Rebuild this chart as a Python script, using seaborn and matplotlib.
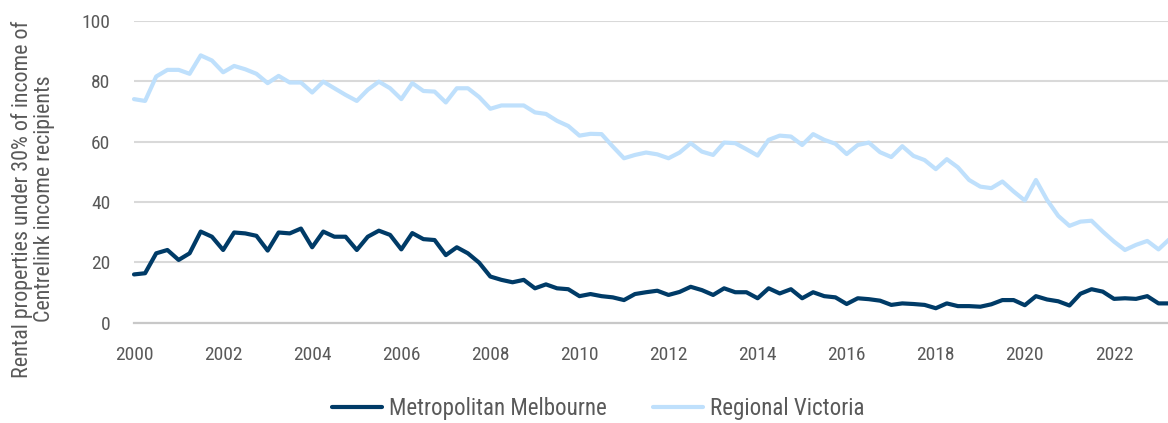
import pandas as pd
import matplotlib
matplotlib.use("Agg")
import matplotlib.pyplot as plt
import matplotlib.dates as mdates
from matplotlib import font_manager
import seaborn as sns

# quarterly share of rental properties affordable for Centrelink recipients, Q1 2000 - Q2 2023
quarters = pd.period_range("2000Q1", "2023Q2", freq="Q").to_timestamp()

metro = [
    16.0, 16.4, 23.0, 24.1, 20.8, 23.0, 30.2, 28.5, 24.1, 29.9, 29.6, 28.8,
    23.9, 29.9, 29.6, 31.2, 25.0, 30.2, 28.5, 28.5, 24.1, 28.5, 30.5, 29.1,
    24.3, 29.7, 27.7, 27.4, 22.4, 25.0, 23.0, 19.9, 15.3, 14.2, 13.4, 14.2,
    11.4, 12.7, 11.4, 11.1, 8.8, 9.5, 8.8, 8.4, 7.5, 9.5, 10.1, 10.6,
    9.2, 10.2, 11.9, 10.8, 9.2, 11.4, 10.1, 10.1, 8.1, 11.4, 9.7, 11.1,
    8.1, 10.1, 8.8, 8.4, 6.2, 8.1, 7.8, 7.3, 5.9, 6.4, 6.2, 5.9,
    4.8, 6.4, 5.5, 5.5, 5.3, 6.1, 7.5, 7.5, 5.8, 8.8, 7.7, 7.1,
    5.7, 9.6, 11.1, 10.3, 7.9, 8.1, 7.9, 8.8, 6.4, 6.4,
]
regional = [
    74.1, 73.5, 81.6, 83.8, 83.8, 82.5, 88.6, 86.9, 83.0, 85.1, 84.0, 82.5,
    79.4, 81.8, 79.6, 79.6, 76.3, 79.9, 77.7, 75.5, 73.5, 77.2, 79.9, 77.7,
    74.1, 79.4, 76.8, 76.6, 73.0, 77.7, 77.7, 74.8, 70.9, 72.0, 72.0, 72.0,
    69.7, 69.2, 66.9, 65.2, 62.0, 62.6, 62.5, 58.4, 54.5, 55.6, 56.4, 55.8,
    54.5, 56.4, 59.5, 56.7, 55.6, 59.7, 59.5, 57.5, 55.4, 60.6, 62.0, 61.7,
    58.9, 62.5, 60.6, 59.3, 55.9, 58.9, 59.7, 56.5, 54.9, 58.5, 55.3, 53.9,
    50.9, 54.2, 51.5, 47.3, 45.1, 44.6, 46.8, 43.5, 40.5, 47.3, 40.7, 35.4,
    32.1, 33.5, 33.8, 30.2, 26.9, 24.1, 25.8, 27.1, 24.3, 27.7,
]
series_names = ["Metropolitan Melbourne", "Regional Victoria"]
colors = ["#003B67", "#BFE0FC"]

df = pd.DataFrame({
    "quarter": list(quarters) * 2,
    "share": metro + regional,
    "region": [series_names[0]] * len(metro) + [series_names[1]] * len(regional),
})

sns.set_style("white")
# pick a narrow font if there is one, the original uses a condensed face
installed = {f.name for f in font_manager.fontManager.ttflist}
font = "Roboto"
for cand in ["Roboto Condensed", "Liberation Sans Narrow", "Arial Narrow"]:
    if cand in installed:
        font = cand
        break
plt.rcParams["font.family"] = [font, "DejaVu Sans"]
narrow = font != "Roboto"
fs = 14 if narrow else 12.5
grey = "#595959"

fig = plt.figure(figsize=(11.68, 4.23), dpi=100)
ax = fig.add_axes([134 / 1168, 0.2371, 1034 / 1168, 0.7133])

sns.lineplot(data=df, x="quarter", y="share", hue="region", palette=colors,
             linewidth=3.0, ax=ax, legend=True, clip_on=False, zorder=3)

ax.set_ylim(0, 100)
ax.set_yticks(range(0, 101, 20))
ax.set_xlim(pd.Timestamp("2000-01-01"), pd.Timestamp("2023-03-20"))
ax.xaxis.set_major_locator(mdates.YearLocator(2))
ax.xaxis.set_major_formatter(mdates.DateFormatter("%Y"))

ax.grid(axis="y", color="#D9D9D9", linewidth=1.5)
ax.grid(axis="x", visible=False)
for side in ["top", "right", "left"]:
    ax.spines[side].set_visible(False)
ax.spines["bottom"].set_color("#C8C8C8")
ax.spines["bottom"].set_linewidth(1.6)
ax.tick_params(axis="both", length=0, labelsize=fs, labelcolor=grey)
ax.tick_params(axis="y", pad=17)
ax.tick_params(axis="x", pad=17)
ax.set_xlabel("")
ax.set_ylabel("")

fig.text(33 / 1168, 0.53, "Rental properties under 30% of income of\nCentrelink income recipients",
         rotation=90, ha="center", va="center", multialignment="center",
         fontsize=fs * 1.13, color=grey, linespacing=1.1)

handles, labels = ax.get_legend_handles_labels()
ax.get_legend().remove()
fig.legend(handles, labels, loc="center", bbox_to_anchor=(598 / 1168, 0.035), ncol=2,
           frameon=False, fontsize=fs * 1.18, handlelength=2.2,
           handletextpad=0.3, columnspacing=2.0, labelcolor=grey)

plt.savefig("out.png", dpi=100)
